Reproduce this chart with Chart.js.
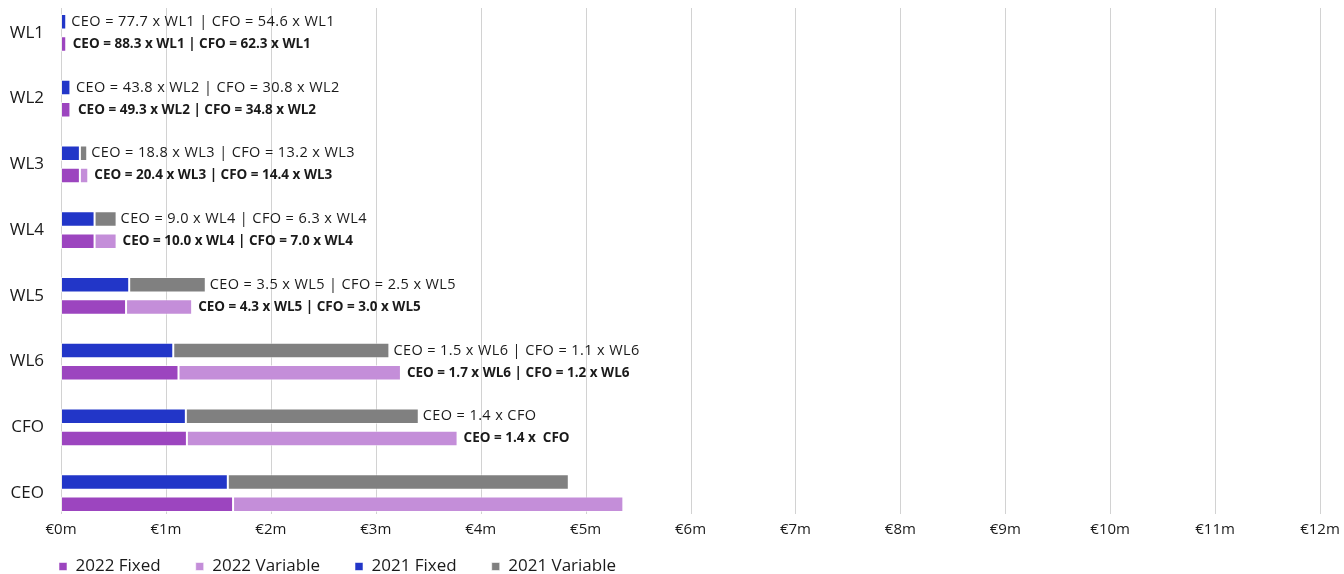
<!DOCTYPE html>
<html>
<head>
<meta charset="utf-8">
<script src="https://cdn.jsdelivr.net/npm/chart.js@4"></script>
<style>
  html, body { margin: 0; padding: 0; background: #fff; }
  #wrap { width: 1344px; height: 574px; }
</style>
</head>
<body>
<div id="wrap"><canvas id="chartPay" width="1344" height="574"></canvas></div>
<script>
/* data (EUR millions) */
const categories   = ['WL1', 'WL2', 'WL3', 'WL4', 'WL5', 'WL6', 'CFO', 'CEO'];
const fixed2021    = [0.05, 0.09, 0.18, 0.32, 0.65, 1.07, 1.19, 1.59];
const variable2021 = [0.01, 0.015, 0.07, 0.21, 0.73, 2.06, 2.22, 3.25];
const fixed2022    = [0.05, 0.09, 0.18, 0.32, 0.62, 1.12, 1.20, 1.64];
const variable2022 = [0.005, 0.015, 0.08, 0.21, 0.63, 2.12, 2.58, 3.72];
const xTicks = [0, 1, 2, 3, 4, 5, 6, 7, 8, 9, 10, 11, 12];

const ratio2021 = [
    'CEO = 77.7 x WL1 | CFO = 54.6 x WL1',
    'CEO = 43.8 x WL2 | CFO = 30.8 x WL2',
    'CEO = 18.8 x WL3 | CFO = 13.2 x WL3',
    'CEO = 9.0 x WL4 | CFO = 6.3 x WL4',
    'CEO = 3.5 x WL5 | CFO = 2.5 x WL5',
    'CEO = 1.5 x WL6 | CFO = 1.1 x WL6',
    'CEO = 1.4 x CFO',
    ''
];
const ratio2022 = [
    'CEO = 88.3 x WL1 | CFO = 62.3 x WL1',
    'CEO = 49.3 x WL2 | CFO = 34.8 x WL2',
    'CEO = 20.4 x WL3 | CFO = 14.4 x WL3',
    'CEO = 10.0 x WL4 | CFO = 7.0 x WL4',
    'CEO = 4.3 x WL5 | CFO = 3.0 x WL5',
    'CEO = 1.7 x WL6 | CFO = 1.2 x WL6',
    'CEO = 1.4 x  CFO',
    ''
];

const FONT = "'Open Sans', sans-serif";
const legendRank = [2, 3, 0, 1];

/* vertical grid, a bit shorter than the plot so it stops above the tick labels */
const shortGrid = {
    id: 'shortGrid',
    beforeDatasetsDraw(chart) {
        const {ctx, chartArea, scales} = chart;
        ctx.save();
        ctx.strokeStyle = '#d2d2d2';
        ctx.lineWidth = 1;
        xTicks.forEach(v => {
            const x = Math.round(scales.x.getPixelForValue(v)) + 0.5;
            ctx.beginPath();
            ctx.moveTo(x, chartArea.top + 8);
            ctx.lineTo(x, chartArea.bottom - 12);
            ctx.stroke();
        });
        ctx.restore();
    }
};

/* ratio text at the end of each stacked bar */
const ratioLabels = {
    id: 'ratioLabels',
    afterDatasetsDraw(chart) {
        const ctx = chart.ctx;
        const top = chart.getDatasetMeta(1);
        const bottom = chart.getDatasetMeta(3);
        ctx.save();
        ctx.fillStyle = '#1a1a1a';
        ctx.textBaseline = 'middle';
        ctx.textAlign = 'left';
        categories.forEach((c, i) => {
            const a = top.data[i], b = bottom.data[i];
            ctx.font = `400 14.5px ${FONT}`;
            ctx.letterSpacing = '0.4px';
            ctx.fillText(ratio2021[i], a.x + 4, a.y);
            ctx.font = `700 13.5px ${FONT}`;
            ctx.letterSpacing = '0px';
            ctx.fillText(ratio2022[i], b.x + 6, b.y);
        });
        ctx.restore();
    }
};

/* legend: compact box, pushed to the bottom-left like the original */
const legendPlace = {
    id: 'legendPlace',
    beforeInit(chart) {
        const lg = chart.legend;
        const fit = lg.fit;
        lg.fit = function () { fit.call(this); this.height = 24; };
    },
    afterLayout(chart) {
        const lg = chart.legend;
        const p = lg.options.labels.padding;
        lg.left = 59 - p;
        lg.top = chart.height - 16 - p;
    }
};

const barStyle = {borderColor: 'rgba(255,255,255,0.55)', borderWidth: 1, borderSkipped: false,
                  categoryPercentage: 0.674, barPercentage: 0.70};

new Chart(document.getElementById('chartPay'), {
    type: 'bar',
    data: {
        labels: categories,
        datasets: [
            {label: '2021 Fixed',    data: fixed2021,    stack: 's2021', backgroundColor: '#2236c8', ...barStyle},
            {label: '2021 Variable', data: variable2021, stack: 's2021', backgroundColor: '#808080', ...barStyle},
            {label: '2022 Fixed',    data: fixed2022,    stack: 's2022', backgroundColor: '#9c45bf', ...barStyle},
            {label: '2022 Variable', data: variable2022, stack: 's2022', backgroundColor: '#c48ed9', ...barStyle}
        ]
    },
    options: {
        responsive: false, animation: false, indexAxis: 'y',
        layout: {padding: {left: 9, right: 24, top: 0, bottom: 0}},
        plugins: {
            tooltip: {enabled: false},
            legend: {
                position: 'bottom', align: 'start',
                labels: {
                    color: '#1a1a1a', boxWidth: 8, boxHeight: 8, padding: 35,
                    font: {family: FONT, size: 17},
                    sort: (a, b) => legendRank[a.datasetIndex] - legendRank[b.datasetIndex]
                }
            }
        },
        scales: {
            x: {
                stacked: true, min: 0, max: 12,
                afterBuildTicks: axis => { axis.ticks = xTicks.map(v => ({value: v})); },
                afterFit: axis => {
                    axis.height = 24;
                    axis._computeLabelArea = () => undefined;   // labels sit slightly above the axis box
                },
                ticks: {color: '#1a1a1a', font: {family: FONT, size: 15}, padding: -5,
                        callback: v => '€' + v + 'm', maxRotation: 0},
                grid: {display: false, drawTicks: false},
                border: {display: false}
            },
            y: {
                stacked: true,
                afterFit: axis => { axis.width = 52; axis.paddingTop = 0; axis.paddingBottom = 0; },
                ticks: {color: '#1a1a1a', font: {family: FONT, size: 17}, padding: 17},
                grid: {display: false, drawTicks: false},
                border: {display: false}
            }
        }
    },
    plugins: [shortGrid, ratioLabels, legendPlace]
});
</script>
</body>
</html>
